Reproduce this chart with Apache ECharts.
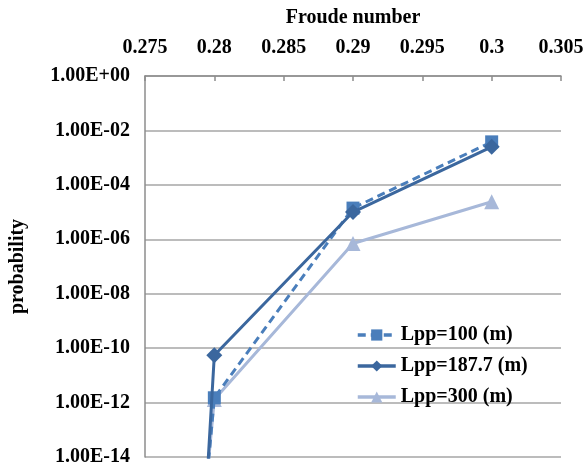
<!DOCTYPE html>
<html>
<head>
<meta charset="utf-8">
<script src="https://cdn.jsdelivr.net/npm/echarts@6/dist/echarts.min.js"></script>
<style>html,body{margin:0;padding:0;background:#fff}#c{width:588px;height:471px}</style>
</head>
<body>
<div id="c"></div>
<script>
const froude = [0.2795, 0.28, 0.29, 0.3];
const lpp100 = [2.5e-15, 1.5e-12, 1.4e-5, 3.8e-3];
const lpp187 = [2.5e-15, 5.5e-11, 1.0e-5, 2.5e-3];
const lpp300 = [2.5e-15, 1.3e-12, 7e-7, 2.4e-5];
const seriesNames = ['Lpp=100 (m)', 'Lpp=187.7 (m)', 'Lpp=300 (m)'];
const xTicks = { min: 0.275, max: 0.305, step: 0.005 };
const yTicks = { min: 1e-14, max: 1, stepDecades: 2 };

const font = 'Liberation Serif';
function pts(vals) {
  return froude.map((f, i) => i === 0 ? { value: [f, vals[i]], symbol: 'none' } : [f, vals[i]]);
}
function yfmt(v) {
  const e = Math.round(Math.log10(v));
  return '1.00E' + (e < 0 ? '-' : '+') + String(Math.abs(e)).padStart(2, '0');
}
const chart = echarts.init(document.getElementById('c'), null, { renderer: 'canvas' });
chart.setOption({
  animation: false,
  grid: { left: 142.5, right: 27, top: 76, bottom: 14 },
  xAxis: {
    type: 'value', position: 'top', min: xTicks.min, max: xTicks.max, interval: xTicks.step,
    name: 'Froude number', nameLocation: 'middle', nameGap: 48,
    nameTextStyle: { fontFamily: font, fontWeight: 'bold', fontSize: 20, color: '#000' },
    axisLine: { lineStyle: { color: '#8c8c8c', width: 1.5 } },
    axisTick: { inside: true, length: 5, lineStyle: { color: '#8c8c8c', width: 1.5 } },
    splitLine: { show: false },
    axisLabel: { margin: 18, fontFamily: font, fontWeight: 'bold', fontSize: 20, color: '#000',
      formatter: v => String(+v.toFixed(3)) }
  },
  yAxis: {
    type: 'log', logBase: 10, min: yTicks.min, max: yTicks.max, interval: yTicks.stepDecades,
    name: 'probability', nameLocation: 'middle', nameGap: 117, nameRotate: 90,
    nameTextStyle: { fontFamily: font, fontWeight: 'bold', fontSize: 20, color: '#000' },
    axisLine: { show: true, lineStyle: { color: '#8c8c8c', width: 1.5 } },
    axisTick: { show: false },
    splitLine: { show: true, lineStyle: { color: '#a6a6a6', width: 1.5 } },
    axisLabel: { margin: 15, fontFamily: font, fontWeight: 'bold', fontSize: 20, color: '#000', formatter: yfmt }
  },
  legend: {
    orient: 'vertical', left: 351, top: 320, itemWidth: 38, itemHeight: 14, itemGap: 11,
    lineStyle: { width: 3.5 },
    textStyle: { fontFamily: font, fontWeight: 'bold', fontSize: 20, color: '#000' },
    data: seriesNames
  },
  series: [
    { name: seriesNames[0], type: 'line', data: pts(lpp100), symbol: 'rect', symbolSize: 13,
      itemStyle: { color: '#4a7ebb' }, lineStyle: { color: '#4a7ebb', width: 3, type: [8, 5] }, z: 3 },
    { name: seriesNames[1], type: 'line', data: pts(lpp187), symbol: 'diamond', symbolSize: 16,
      itemStyle: { color: '#3b679e' }, lineStyle: { color: '#3b679e', width: 3 }, z: 4 },
    { name: seriesNames[2], type: 'line', data: pts(lpp300), symbol: 'triangle', symbolSize: 15,
      itemStyle: { color: '#a7b8d9' }, lineStyle: { color: '#a7b8d9', width: 3 }, z: 2 }
  ]
});
</script>
</body>
</html>
